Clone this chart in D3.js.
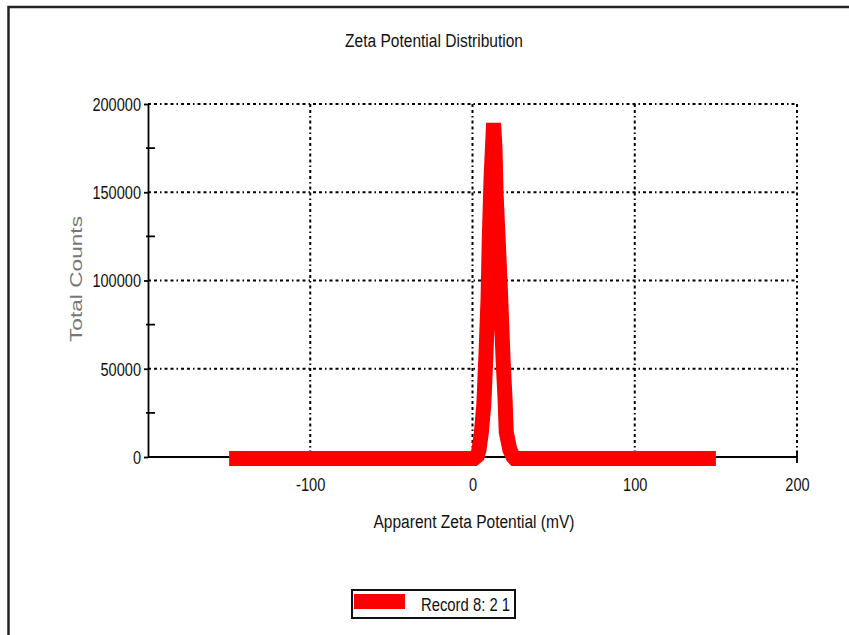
<!DOCTYPE html>
<html lang="en">
<head>
    <meta charset="UTF-8">
    <title>Zeta Potential Distribution</title>
    <style>
        body {
            margin: 0;
            background: #fff;
        }
        svg {
            display: block;
            font-family: "Liberation Sans", Arial, sans-serif;
        }
        .grid line {
            stroke: #000;
            stroke-width: 2;
            stroke-dasharray: 3,3,3,3,1.5,3;
        }
        .axis path, .axis line {
            stroke: #000;
            stroke-width: 1.8;
        }
        .axis text {
            font-size: 18px;
            fill: #111;
        }
    </style>
</head>
<body>
<svg id="chart" width="849" height="635"></svg>

<script src="https://d3js.org/d3.v7.min.js"></script>
<script>
// values: apparent zeta potential (mV) and total counts
const zeta = [-150, 1, 3, 4, 5.5, 7, 8.3, 9.6, 10.3, 11.4, 13, 13.9, 14.5, 17, 18.9, 20.1, 20.8, 23, 25, 26, 150];
const counts = [0, 0, 1500, 5000, 15000, 31000, 59000, 91000, 123000, 158000, 190000, 175000, 151000, 100000, 55000, 33000, 15000, 5000, 1000, 0, 0];

const xTicks = [-100, 0, 100, 200];
const yTicks = [0, 50000, 100000, 150000, 200000];
const yMinorTicks = [25000, 75000, 125000, 175000];

const seriesName = 'Record 8: 2 1';

const svg = d3.select('#chart');

// the source font is a condensed one, so squeeze text to its width
function squeeze(sel, w) {
    sel.attr('textLength', w).attr('lengthAdjust', 'spacingAndGlyphs');
}
const labelWidth = d => String(d).replace('-', '').length * 8.1 + (d < 0 ? 5 : 0);

// frame of the report page
svg.append('path')
    .attr('d', 'M8.5,635 L8.5,7 L849,7')
    .attr('fill', 'none')
    .attr('stroke', '#222')
    .attr('stroke-width', 2.5);

const x = d3.scaleLinear().domain([-200, 200]).range([148, 797]);
const y = d3.scaleLinear().domain([0, 200000]).range([457, 104]);

// dotted grid
const grid = svg.append('g').attr('class', 'grid');
grid.selectAll('.h')
    .data(yTicks.filter(d => d > 0))
    .enter().append('line')
    .attr('x1', x(-200))
    .attr('x2', x(200))
    .attr('y1', d => y(d))
    .attr('y2', d => y(d));
grid.selectAll('.v')
    .data(xTicks)
    .enter().append('line')
    .attr('x1', d => x(d))
    .attr('x2', d => x(d))
    .attr('y1', y(200000))
    .attr('y2', y(0));

// axes
const xAxis = svg.append('g')
    .attr('class', 'axis')
    .attr('transform', `translate(0,${y(0)})`)
    .call(d3.axisBottom(x).tickValues(xTicks).tickFormat(d => String(d))
        .tickSize(0).tickPadding(21).tickSizeOuter(0));
xAxis.select('.domain').attr('d', `M${x(-200)},0H${x(200)}`);
xAxis.selectAll('.tick text').each(function(d) { squeeze(d3.select(this), labelWidth(d)); });
xAxis.append('line')
    .attr('x1', x(200)).attr('x2', x(200))
    .attr('y1', -6).attr('y2', 6);

const yAxis = svg.append('g')
    .attr('class', 'axis')
    .attr('transform', `translate(${x(-200)},0)`)
    .call(d3.axisLeft(y).tickValues(yTicks).tickFormat(d => String(d))
        .tickSize(4).tickPadding(3).tickSizeOuter(0));
yAxis.selectAll('.tick text')
    .attr('dy', '0.36em')
    .each(function(d) { squeeze(d3.select(this), labelWidth(d)); });
yAxis.selectAll('.minor')
    .data(yMinorTicks)
    .enter().append('line')
    .attr('class', 'minor')
    .attr('x1', -2)
    .attr('x2', 7)
    .attr('y1', d => y(d))
    .attr('y2', d => y(d));

// series
const line = d3.line()
    .x((d, i) => x(zeta[i]))
    .y((d, i) => y(counts[i]));

svg.append('path')
    .datum(zeta)
    .attr('d', line)
    .attr('fill', 'none')
    .attr('stroke', '#ff0000')
    .attr('stroke-width', 15)
    .attr('stroke-linejoin', 'miter')
    .attr('stroke-miterlimit', 2)
    .attr('stroke-linecap', 'butt')
    .attr('transform', 'translate(0,1.5)');

// titles
svg.append('text')
    .attr('x', 434)
    .attr('y', 47)
    .attr('text-anchor', 'middle')
    .style('font-size', '18px')
    .attr('fill', '#111')
    .text('Zeta Potential Distribution')
    .call(squeeze, 178);

svg.append('text')
    .attr('x', 474)
    .attr('y', 528)
    .attr('text-anchor', 'middle')
    .style('font-size', '18px')
    .attr('fill', '#111')
    .text('Apparent Zeta Potential (mV)')
    .call(squeeze, 201);

svg.append('text')
    .attr('transform', 'translate(82,279) rotate(-90)')
    .attr('text-anchor', 'middle')
    .style('font-size', '17px')
    .attr('fill', '#777')
    .text('Total Counts')
    .call(squeeze, 126);

// legend
const legend = svg.append('g').attr('transform', 'translate(352,590)');
legend.append('rect')
    .attr('x', 0).attr('y', 0)
    .attr('width', 163).attr('height', 28)
    .attr('fill', '#fff')
    .attr('stroke', '#111')
    .attr('stroke-width', 2);
legend.append('rect')
    .attr('x', 2).attr('y', 4)
    .attr('width', 51).attr('height', 15)
    .attr('fill', '#ff0000');
legend.append('text')
    .attr('x', 69)
    .attr('y', 21)
    .style('font-size', '18px')
    .attr('fill', '#111')
    .text(seriesName)
    .call(squeeze, 89);
</script>
</body>
</html>
